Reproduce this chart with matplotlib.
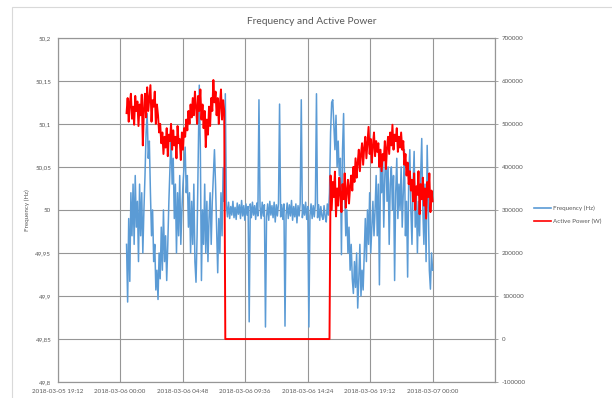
import matplotlib
matplotlib.use("Agg")
import matplotlib.pyplot as plt
from matplotlib.lines import Line2D
from matplotlib.patches import Rectangle
from matplotlib.ticker import FuncFormatter
import numpy as np
import pandas as pd

# --- DATA (one sample every 5 minutes) ---
START = "2018-03-06 00:30"
END = "2018-03-07 00:00"

# 00:30 - 08:00, grid operating normally
freq_morning = [
    49.96, 49.893, 49.99, 49.917, 50.02,
    49.97, 50.03, 49.96, 50.04, 49.98, 50.01, 49.94, 50.03, 49.97, 50.02, 49.95, 50.00,
    50.04, 50.09, 50.112, 50.06, 50.08,
    50.02, 49.97, 50.00, 49.94, 49.96, 49.907, 49.93, 49.896,
    49.95, 49.92, 49.98, 49.93, 50.00, 49.94, 49.97, 49.918, 49.96,
    50.01, 50.05, 50.087, 50.03, 50.06,
    49.99, 50.03, 49.95, 50.02, 49.97, 50.04, 49.96, 50.00,
    50.03, 50.05, 50.073, 50.02, 50.04,
    49.98, 50.02, 49.95, 50.01, 49.96, 50.03, 49.94, 49.916, 49.97,
    50.06, 50.145, 50.07,
    49.918, 50.00, 49.96, 50.03, 49.95, 50.01, 49.94, 49.99, 50.02, 49.96, 50.01,
    50.04, 50.07, 50.03,
    49.98, 49.927, 49.99, 49.95, 50.02, 49.97, 50.049, 50.01,
]
# 08:05 - 16:05, regulated at 50 Hz, with test spikes
freq_midday = [
    50.135,
    50.006, 49.992, 50.009, 49.990, 50.004, 49.994, 50.010, 49.991, 50.003, 49.989, 50.008,
    49.995, 50.006, 49.990, 50.011, 49.993, 50.005, 49.988, 50.007, 49.994, 50.004,
    49.870,
    50.007, 49.991, 50.009, 49.994, 50.005, 49.989, 50.008, 49.993,
    50.128,
    50.004, 49.990, 50.009, 49.993, 50.006,
    49.864,
    49.992, 50.007, 49.988, 50.010, 49.994, 50.005, 49.991, 50.009, 49.986, 50.006, 49.993, 50.008,
    50.123,
    49.992, 50.006, 49.989, 50.007,
    49.865,
    49.994, 50.008, 49.990, 50.006, 49.993, 50.011, 49.988, 50.004, 49.992, 50.007, 49.985,
    50.005, 49.993, 50.008,
    50.128,
    49.991, 50.006, 49.994, 50.009, 49.989, 50.004,
    49.864,
    49.993, 50.007, 49.990, 50.005, 49.992, 50.008,
    50.135,
    49.991, 50.006, 49.988, 50.004, 49.993, 49.989, 50.005, 49.992, 49.986, 50.007, 49.994, 50.02,
]
# 16:10 - 00:00
freq_evening = [
    50.09, 50.125, 50.128,
    50.10, 50.07, 50.11, 50.05, 50.08, 50.04, 50.06,
    49.948,
    50.07, 50.112,
    50.02, 49.97, 50.00, 49.95, 49.98, 49.93, 49.96, 49.92,
    49.903, 49.94, 49.91, 49.95, 49.886, 49.92, 49.96, 49.90, 49.93, 49.907,
    49.95, 49.99, 49.94, 50.00, 49.96, 50.02, 49.95, 49.98, 50.01, 49.97,
    50.00, 50.04, 49.97, 50.03, 49.913, 50.05, 50.02, 50.06, 49.98, 50.04, 50.07, 50.01,
    50.05, 49.96, 50.03,
    50.05, 50.00, 50.04, 49.918, 50.02, 50.06, 49.99, 50.03, 50.00, 50.05, 49.98, 50.02,
    50.07, 49.97, 50.01,
    49.922, 50.04, 50.07, 50.00, 49.96, 50.03, 50.068, 49.98, 50.02, 49.95, 50.01, 49.97,
    50.04, 50.083, 50.00,
    49.96, 50.03, 49.94, 50.075, 50.01, 49.93, 49.908, 49.95, 49.93,
]

# active power in kW, same time grid
power_morning_kw = [
    525, 560, 505, 548, 570, 512, 540, 498, 565, 530, 552, 495, 545, 520, 568, 450, 535,
    570, 515, 585, 530, 560, 590, 505, 555, 540, 575, 500, 545, 520, 480,
    500, 455, 480, 430, 470, 445, 490, 425, 475, 460, 500, 440, 485, 450, 470, 420,
    495, 455, 465, 416, 480, 440, 490,
    470, 510, 485, 530, 500, 545, 515, 560,
    520, 575, 540, 500, 565, 530, 580, 510,
    545, 490, 530, 446, 510, 475, 540, 495,
    560, 530, 602, 550, 575,
    520, 560, 500, 545, 580, 510, 555, 530,
]
power_midday_kw = [0] * 97
power_evening_kw = [
    380, 300, 365, 330, 389, 285, 350, 310, 375, 340, 295, 360, 325, 385, 305, 345, 370, 315, 355,
    380, 345, 400, 365, 420, 375, 410, 440, 390, 430, 455, 405, 445,
    470, 420, 455, 493, 430, 465, 410, 450, 480, 425, 460, 435,
    455, 400, 440, 390, 430, 415, 460, 395, 445,
    470, 430, 480, 450, 498, 440, 475, 460, 490, 435, 470, 445, 480,
    440, 460, 405, 430, 380, 410, 360, 390, 345,
    370, 320, 385, 300, 355, 335, 390, 290, 360, 325, 375, 310, 350, 280, 365, 330, 385,
    295, 345, 320,
]

X_TICKS = pd.date_range("2018-03-05 19:12", periods=8, freq="288min")

# --- STYLE ---
FREQ_COLOR = "#5B9BD5"
POWER_COLOR = "#FF0000"
GRID_COLOR = "#969696"
TEXT_COLOR = "#595959"
FONT = "Lato"
TICK_SIZE = 4.5


def main():
    times = pd.date_range(START, END, freq="5min")
    freq = np.array(freq_morning + freq_midday + freq_evening)
    power = np.array(power_morning_kw + power_midday_kw + power_evening_kw) * 1000

    plt.rcParams["font.family"] = [FONT, "DejaVu Sans"]
    fig = plt.figure(figsize=(6.12, 3.98), dpi=100)
    ax = fig.add_axes([0.094, 0.040, 0.715, 0.865])
    ax2 = ax.twinx()

    # chart area frame (runs off the right/bottom edge like the screenshot)
    fig.patches.append(Rectangle((0.0196, -0.05), 1.2, 1.032, transform=fig.transFigure,
                                 fill=False, edgecolor="#d9d9d9", lw=0.8))

    ax.plot(times, freq, color=FREQ_COLOR, lw=1.1, label="Frequency (Hz)")
    ax2.plot(times, power, color=POWER_COLOR, lw=1.4, label="Active Power (W)")

    ax.set_xlim(X_TICKS[0], X_TICKS[-1])
    ax.set_ylim(49.8, 50.2)
    ax2.set_ylim(-100000, 700000)

    ax.set_yticks(np.arange(49.8, 50.2001, 0.05))
    ax.yaxis.set_major_formatter(FuncFormatter(lambda v, p: f"{v:.2f}".rstrip("0").rstrip(".").replace(".", ",")))
    ax2.set_yticks(np.arange(-100000, 700001, 100000))
    ax2.yaxis.set_major_formatter(FuncFormatter(lambda v, p: f"{int(round(v))}"))

    ax.set_xticks(X_TICKS)
    labels = [t.strftime("%Y-%m-%d %H:%M") for t in X_TICKS[:-1]] + [""]
    ax.set_xticklabels(labels)

    ax.grid(True, color=GRID_COLOR, lw=0.8)
    ax.set_axisbelow(True)
    for a in (ax, ax2):
        for s in a.spines.values():
            s.set_color(GRID_COLOR)
            s.set_linewidth(0.8)
    ax.tick_params(axis="both", length=0, labelsize=TICK_SIZE, labelcolor=TEXT_COLOR)
    ax.tick_params(axis="y", pad=4.5)
    ax.tick_params(axis="x", pad=5)
    ax2.tick_params(axis="y", length=2, width=0.6, color=GRID_COLOR, pad=3,
                    labelsize=TICK_SIZE, labelcolor=TEXT_COLOR)

    ax.set_ylabel("Frequency (Hz)", fontsize=TICK_SIZE, color=TEXT_COLOR, labelpad=4)
    fig.text(0.51, 0.945, "Frequency and Active Power", ha="center", va="center",
             fontsize=7.4, color=TEXT_COLOR)

    handles = [Line2D([], [], color=FREQ_COLOR, lw=1.2), Line2D([], [], color=POWER_COLOR, lw=1.2)]
    fig.legend(handles, ["Frequency (Hz)", "Active Power (W)"], loc="center left",
               bbox_to_anchor=(0.868, 0.461), frameon=False, fontsize=TICK_SIZE,
               handlelength=2.6, handletextpad=0.4, labelspacing=1.2, borderpad=0,
               labelcolor=TEXT_COLOR)

    fig.savefig("out.png", dpi=100)
    plt.close(fig)


if __name__ == "__main__":
    main()
